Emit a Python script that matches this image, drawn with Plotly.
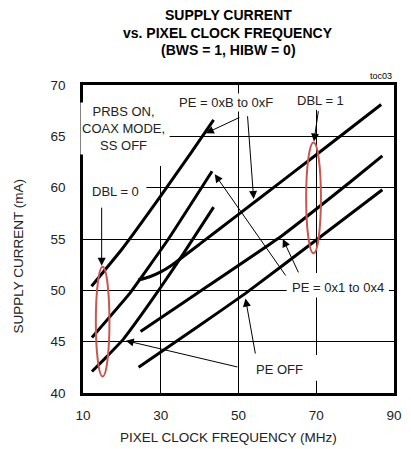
import plotly.graph_objects as go

# ---- data ----
freq_dbl0_pe_b_f = [12.2, 20.0, 30.0, 37.6, 43.6]
curr_dbl0_pe_b_f = [50.4, 54.0, 59.2, 63.3, 66.6]

freq_dbl0_pe_1_4 = [12.3, 21.8, 31.8, 43.2]
curr_dbl0_pe_1_4 = [45.4, 49.6, 54.9, 61.6]

freq_dbl0_pe_off = [12.3, 16.0, 20.5, 25.0, 30.0, 35.7, 43.6]
curr_dbl0_pe_off = [42.1, 43.5, 45.3, 47.6, 50.3, 53.5, 58.1]

freq_dbl1_pe_b_f = [24.2, 27.0, 30.0, 33.0, 40.0, 50.0, 60.0, 70.0, 86.7]
curr_dbl1_pe_b_f = [51.0, 51.3, 51.8, 52.5, 54.5, 57.4, 60.3, 63.2, 68.1]

freq_dbl1_pe_1_4 = [24.8, 39.3, 61.1, 78.9, 87.0]
curr_dbl1_pe_1_4 = [46.0, 49.7, 55.3, 60.6, 63.1]

freq_dbl1_pe_off = [24.3, 39.3, 51.8, 70.0, 87.0]
curr_dbl1_pe_off = [42.5, 46.4, 49.7, 54.9, 59.8]

x_ticks = [10, 30, 50, 70, 90]
y_ticks = [40, 45, 50, 55, 60, 65, 70]

FONT = "Liberation Sans, Arial, sans-serif"
RED = "#c9564f"

fig = go.Figure()
series = [
    (freq_dbl0_pe_b_f, curr_dbl0_pe_b_f),
    (freq_dbl0_pe_1_4, curr_dbl0_pe_1_4),
    (freq_dbl0_pe_off, curr_dbl0_pe_off),
    (freq_dbl1_pe_b_f, curr_dbl1_pe_b_f),
    (freq_dbl1_pe_1_4, curr_dbl1_pe_1_4),
    (freq_dbl1_pe_off, curr_dbl1_pe_off),
]
for xs, ys in series:
    fig.add_trace(go.Scatter(x=xs, y=ys, mode="lines",
                             line=dict(color="black", width=3, shape="spline", smoothing=0.3),
                             showlegend=False, hoverinfo="skip"))

# white patches that interrupt gridlines (as in reference)
patches = [
    (10, 32.3, 62.1, 70),
    (10, 26.3, 58.8, 60.6),
    (62.4, 88.7, 49.3, 51.7),
    (54.5, 71.0, 41.2, 43.7),
    (66.5, 76.0, 67.6, 70),
    (34.8, 58.6, 67.5, 69.1),
]
shapes = []
for x0, x1, y0, y1 in patches:
    shapes.append(dict(type="rect", xref="x", yref="y", x0=x0, x1=x1, y0=y0, y1=y1,
                       fillcolor="white", line=dict(width=0), layer="between"))
# red ellipses
shapes.append(dict(type="circle", xref="x", yref="y", x0=13.3, x1=16.8, y0=41.6, y1=52.3,
                   line=dict(color=RED, width=2), layer="above"))
shapes.append(dict(type="circle", xref="x", yref="y", x0=67.4, x1=71.2, y0=53.6, y1=64.4,
                   line=dict(color=RED, width=2), layer="above"))

annotations = []
def label(text, x, y, size=13):
    annotations.append(dict(text=text, x=x, y=y, xref="x", yref="y", showarrow=False,
                            font=dict(family=FONT, size=size, color="#222"),
                            bgcolor="white", borderpad=1, align="center"))

label("PRBS ON,<br>COAX MODE,<br>SS OFF", 20.5, 65.8)
label("PE = 0xB to 0xF", 46.8, 68.3)
label("DBL = 1", 71.2, 68.5)
label("DBL = 0", 18.3, 59.6)
label("PE = 0x1 to 0x4", 75.7, 50.3)
label("PE OFF", 60.6, 42.25)

arrows = [
    (50.6, 66.9, 41.6, 65.3),
    (52.3, 67.1, 53.9, 58.9),
    (70.6, 67.6, 69.4, 64.5),
    (14.8, 58.2, 14.8, 52.4),
    (62.4, 51.3, 43.9, 61.3),
    (65.6, 51.6, 61.4, 55.0),
    (50.1, 42.5, 21.0, 45.1),
    (54.4, 43.7, 51.8, 49.2),
]
for tx, ty, hx, hy in arrows:
    annotations.append(dict(text="", x=hx, y=hy, ax=tx, ay=ty, xref="x", yref="y",
                            axref="x", ayref="y", showarrow=True, arrowhead=2,
                            arrowsize=1.6, arrowwidth=1, arrowcolor="black"))

# titles
title_lines = [("SUPPLY CURRENT", 1.227), ("vs. PIXEL CLOCK FREQUENCY", 1.169),
               ("(BWS = 1, HIBW = 0)", 1.114)]
for t, yy in title_lines:
    annotations.append(dict(text="<b>" + t + "</b>", x=0.467, y=yy, xref="paper", yref="paper",
                            showarrow=False, xanchor="center", yanchor="middle",
                            font=dict(family=FONT, size=14, color="black")))
annotations.append(dict(text="toc03", x=1.0, y=1.03, xref="paper", yref="paper",
                        showarrow=False, xanchor="right", yanchor="middle",
                        font=dict(family=FONT, size=9, color="black")))
annotations.append(dict(text="PIXEL CLOCK FREQUENCY (MHz)", x=0.467, y=-0.143,
                        xref="paper", yref="paper", showarrow=False,
                        xanchor="center", yanchor="middle",
                        font=dict(family=FONT, size=13.5, color="#222")))
annotations.append(dict(text="SUPPLY CURRENT (mA)", x=-0.207, y=0.445,
                        xref="paper", yref="paper", showarrow=False, textangle=-90,
                        xanchor="center", yanchor="middle",
                        font=dict(family=FONT, size=13.5, color="#222")))

axis_common = dict(showgrid=True, gridcolor="black", gridwidth=1, zeroline=False,
                   showline=True, linecolor="black", linewidth=2.5, mirror=True,
                   ticks="", tickfont=dict(family=FONT, size=13.5, color="#222"))

fig.update_layout(
    width=411, height=449,
    margin=dict(l=83, r=9, t=85, b=56),
    paper_bgcolor="white", plot_bgcolor="white",
    xaxis=dict(range=[10, 90], tickvals=x_ticks, ticklabelstandoff=8, **axis_common),
    yaxis=dict(range=[40, 70], tickvals=y_ticks, ticklabelstandoff=12, **axis_common),
    shapes=shapes, annotations=annotations,
)

fig.write_html("out.html", config={"displayModeBar": False},
               post_script="document.body.style.margin='0';document.body.style.overflow='hidden';")
